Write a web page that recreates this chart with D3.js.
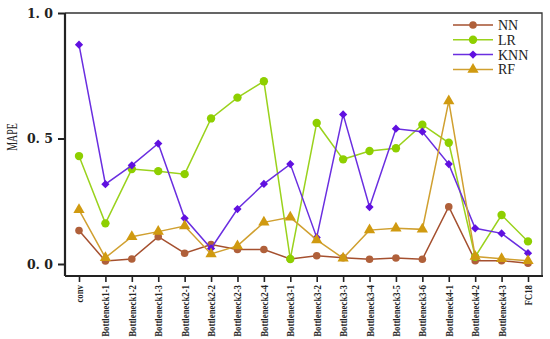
<!DOCTYPE html>
<html>
<head>
<meta charset="utf-8">
<script src="https://cdn.jsdelivr.net/npm/d3@7"></script>
<style>
 body{margin:0;background:#fff;}
 svg{display:block;}
</style>
</head>
<body>
<div id="vis"></div>
<script>
// categories along x
var categories = ["conv","Bottleneck1-1","Bottleneck1-2","Bottleneck1-3","Bottleneck2-1","Bottleneck2-2",
  "Bottleneck2-3","Bottleneck2-4","Bottleneck3-1","Bottleneck3-2","Bottleneck3-3","Bottleneck3-4",
  "Bottleneck3-5","Bottleneck3-6","Bottleneck4-1","Bottleneck4-2","Bottleneck4-3","FC18"];
// MAPE values
var nnVals  = [0.133,0.012,0.020,0.109,0.043,0.078,0.058,0.058,0.020,0.033,0.025,0.019,0.024,0.019,0.228,0.013,0.013,0.003];
var lrVals  = [0.430,0.162,0.378,0.370,0.358,0.580,0.663,0.728,0.020,0.562,0.417,0.450,0.461,0.555,0.483,0.029,0.195,0.090];
var knnVals = [0.874,0.318,0.393,0.480,0.182,0.062,0.219,0.319,0.398,0.106,0.596,0.227,0.539,0.527,0.398,0.142,0.122,0.043];
var rfVals  = [0.216,0.025,0.109,0.129,0.151,0.040,0.072,0.166,0.186,0.096,0.023,0.135,0.142,0.138,0.649,0.030,0.021,0.013];
var yTicks = [0, 0.5, 1.0];
var yTickLabels = ["0. 0","0. 5","1. 0"];

function drawchart(){
  var series = [
    {name:"NN",  vals:nnVals,  line:"#a5502f", fill:"#b0603a", sym:d3.symbolCircle,   size:45, rot:0},
    {name:"LR",  vals:lrVals,  line:"#9ad21c", fill:"#8ecf00", sym:d3.symbolCircle,   size:55, rot:0},
    {name:"KNN", vals:knnVals, line:"#6a2ee0", fill:"#6010e0", sym:d3.symbolSquare,   size:34, rot:45},
    {name:"RF",  vals:rfVals,  line:"#d0a030", fill:"#d09a10", sym:d3.symbolTriangle, size:55, rot:0}
  ];

  var w = 550, h = 339;
  var pl = 65, pr = 542, pt = 13, pb = 276;

  var svg = d3.select("#vis").append("svg").attr("width",w).attr("height",h);

  var x = d3.scalePoint().domain(categories).range([pl,pr]).padding(0.53);
  var y = d3.scaleLinear().domain([0,1]).range([264,13]);

  // frame top/right (thin)
  svg.append("path").attr("d","M"+pl+","+pt+"H"+pr+"V"+pb)
    .attr("fill","none").attr("stroke","#333").attr("stroke-width",1.3);

  // y axis
  var yAxis = svg.append("g").attr("transform","translate("+pl+",0)")
    .call(d3.axisLeft(y).tickValues(yTicks).tickSize(7).tickFormat(function(d,i){return yTickLabels[i];}));
  yAxis.select(".domain").attr("d","M0,"+pt+"V"+pb).attr("stroke","#222").attr("stroke-width",2.2);
  yAxis.selectAll(".tick line").attr("stroke","#222").attr("stroke-width",2);
  yAxis.selectAll(".tick text").attr("x",-12).attr("font-family","DejaVu Serif").attr("font-weight","bold")
    .attr("font-size","12.5px").attr("fill","#222");

  // x axis
  var xAxis = svg.append("g").attr("transform","translate(0,"+pb+")")
    .call(d3.axisBottom(x).tickSize(6));
  xAxis.select(".domain").attr("d","M"+pl+",0H"+(pr+1)).attr("stroke","#222").attr("stroke-width",2.2);
  xAxis.selectAll(".tick line").attr("stroke","#222").attr("stroke-width",1.6);
  xAxis.selectAll(".tick text")
    .attr("font-family","Liberation Serif").attr("font-weight","bold").attr("font-size","10px").attr("fill","#222")
    .attr("text-anchor","end").attr("dy",null).attr("y",null)
    .attr("transform","translate(3.5,9) rotate(-90) scale(0.88,1)");

  // y label
  svg.append("text").attr("transform","translate(17,137) rotate(-90) scale(0.66,1)")
    .attr("text-anchor","middle").attr("font-family","Liberation Serif").attr("font-size","15px")
    .attr("fill","#222").text("MAPE");

  // lines and markers
  var line = d3.line().x(function(d,i){return x(categories[i]);}).y(function(d){return y(d);});
  series.forEach(function(s){
    var g = svg.append("g");
    g.append("path").attr("d",line(s.vals)).attr("fill","none").attr("stroke",s.line).attr("stroke-width",1.5);
    g.selectAll("path.m").data(s.vals).enter().append("path").attr("class","m")
      .attr("d",d3.symbol().type(s.sym).size(s.size))
      .attr("transform",function(d,i){return "translate("+x(categories[i])+","+y(d)+") rotate("+s.rot+")";})
      .attr("fill",s.fill);
  });

  // legend
  var leg = svg.append("g");
  series.forEach(function(s,i){
    var yy = 25 + i*14.8;
    leg.append("line").attr("x1",453).attr("x2",493).attr("y1",yy).attr("y2",yy)
      .attr("stroke",s.line).attr("stroke-width",1.5);
    leg.append("path").attr("d",d3.symbol().type(s.sym).size(s.size)).attr("fill",s.fill)
      .attr("transform","translate(473,"+yy+") rotate("+s.rot+")");
    leg.append("text").attr("x",498).attr("y",yy+5).attr("font-family","Liberation Serif")
      .attr("font-size","14px").attr("fill","#222").text(s.name);
  });
}
drawchart();
</script>
</body>
</html>
